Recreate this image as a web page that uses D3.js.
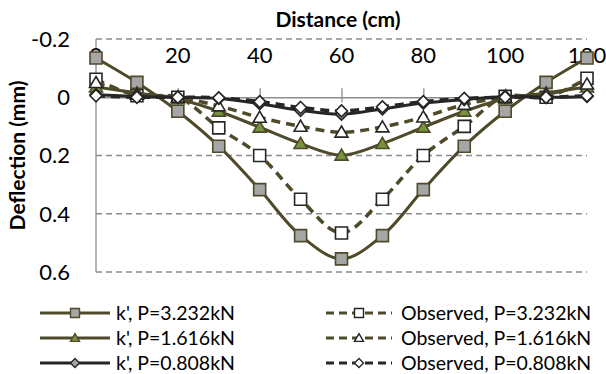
<!DOCTYPE html>
<html>
<head>
<meta charset="utf-8">
<script src="https://cdn.jsdelivr.net/npm/d3@7"></script>
<style>
  body { margin: 0; background: #fff; }
  svg { font-family: "Lato", "Open Sans", sans-serif; }
</style>
</head>
<body>
<svg id="chart" width="606" height="374"></svg>
<script>
// chart data
const distance = [0, 10, 20, 30, 40, 50, 60, 70, 80, 90, 100, 110, 120];
const kP3232 = [-0.135, -0.051, 0.048, 0.168, 0.317, 0.475, 0.555, 0.475, 0.317, 0.168, 0.048, -0.051, -0.135];
const obsP3232 = [-0.062, -0.005, 0.0, 0.105, 0.2, 0.35, 0.466, 0.35, 0.2, 0.1, -0.003, 0.0, -0.065];
const kP1616 = [-0.035, -0.015, 0.005, 0.048, 0.103, 0.159, 0.199, 0.159, 0.103, 0.048, 0.005, -0.015, -0.035];
const obsP1616 = [-0.05, -0.01, 0.0, 0.03, 0.069, 0.1, 0.12, 0.102, 0.068, 0.025, 0.0, -0.01, -0.045];
const kP0808 = [-0.009, -0.003, 0.0, 0.004, 0.022, 0.045, 0.058, 0.04, 0.02, 0.008, -0.003, 0.0, -0.003];
const obsP0808 = [-0.005, 0.0, 0.0, 0.002, 0.015, 0.035, 0.047, 0.033, 0.015, 0.004, 0.0, 0.0, -0.005];
const xTicks = [0, 20, 40, 60, 80, 100, 120];
const yTicks = [-0.2, 0, 0.2, 0.4, 0.6];

const olive = "#4f4a2a";
const dark = "#262626";

const series = [
  { name: "k', P=3.232kN", values: kP3232, color: olive, dash: null, shape: "square", fill: "#a6a6a6", mstroke: olive },
  { name: "Observed, P=3.232kN", values: obsP3232, color: olive, dash: "9,6", shape: "square", fill: "#fff", mstroke: dark },
  { name: "k', P=1.616kN", values: kP1616, color: olive, dash: null, shape: "triangle", fill: "#77933c", mstroke: olive },
  { name: "Observed, P=1.616kN", values: obsP1616, color: olive, dash: "9,6", shape: "triangle", fill: "#fff", mstroke: dark },
  { name: "k', P=0.808kN", values: kP0808, color: dark, dash: null, shape: "diamond", fill: "#a6a6a6", mstroke: dark },
  { name: "Observed, P=0.808kN", values: obsP0808, color: dark, dash: "9,6", shape: "diamond", fill: "#fff", mstroke: dark }
];

// marker outline of width w, centred on 0,0
function marker(shape, w) {
  const h = w / 2;
  const p = d3.path();
  if (shape === "square") {
    p.rect(-h, -h, w, w);
  } else if (shape === "triangle") {
    p.moveTo(0, -h * 0.95); p.lineTo(h, h * 0.75); p.lineTo(-h, h * 0.75); p.closePath();
  } else {
    p.moveTo(0, -h); p.lineTo(h, 0); p.lineTo(0, h); p.lineTo(-h, 0); p.closePath();
  }
  return p.toString();
}

const margin = { left: 96, right: 19, top: 39, bottom: 102 };
const width = 606, height = 374;

const svg = d3.select("#chart");

const x = d3.scaleLinear().domain([0, 120]).range([margin.left, width - margin.right]);
const y = d3.scaleLinear().domain([-0.2, 0.6]).range([margin.top, height - margin.bottom]);

// gridlines
svg.append("g")
  .selectAll("line")
  .data(yTicks.filter(t => t !== 0))
  .enter().append("line")
  .attr("x1", x(0)).attr("x2", x(120))
  .attr("y1", d => y(d)).attr("y2", d => y(d))
  .attr("stroke", "#8c8c8c")
  .attr("stroke-width", 1.3)
  .attr("stroke-dasharray", "6,4");

// y axis line and labels
svg.append("line")
  .attr("x1", x(0)).attr("x2", x(0))
  .attr("y1", y(-0.2)).attr("y2", y(0.6))
  .attr("stroke", "#8c8c8c").attr("stroke-width", 1.3);

svg.append("g")
  .selectAll("text")
  .data(yTicks)
  .enter().append("text")
  .attr("x", 70)
  .attr("y", d => y(d))
  .attr("dy", "0.36em")
  .attr("text-anchor", "end")
  .attr("font-size", 22)
  .attr("fill", "#000")
  .text(d => d === 0 ? "0" : d3.format(".1f")(d).replace("−", "-"));

// x axis line at zero with tick marks, labels shown at the top
const xAxis = d3.axisTop(x).tickValues(xTicks).tickSize(9).tickFormat("");
const xg = svg.append("g").attr("transform", `translate(0,${y(0)})`).call(xAxis);
xg.select(".domain").attr("stroke", "#8c8c8c").attr("stroke-width", 1.3);
xg.selectAll(".tick line").attr("stroke", "#8c8c8c").attr("stroke-width", 1.3).attr("y2", -9).attr("y1", 5);

svg.append("g")
  .selectAll("text")
  .data(xTicks)
  .enter().append("text")
  .attr("x", d => x(d))
  .attr("y", 63)
  .attr("text-anchor", "middle")
  .attr("font-size", 22)
  .attr("fill", "#000")
  .text(d => d);

// axis titles
svg.append("text")
  .attr("x", 338).attr("y", 27)
  .attr("text-anchor", "middle")
  .attr("font-size", 21).attr("font-weight", "bold")
  .text("Distance (cm)");

svg.append("text")
  .attr("transform", `translate(25,${(y(-0.2) + y(0.6)) / 2}) rotate(-90)`)
  .attr("text-anchor", "middle")
  .attr("font-size", 21).attr("font-weight", "bold")
  .text("Deflection (mm)");

// series
const line = d3.line()
  .x((d, i) => x(distance[i]))
  .y(d => y(d))
  .curve(d3.curveCatmullRom.alpha(0.5));

series.forEach(s => {
  const g = svg.append("g");
  g.append("path")
    .datum(s.values)
    .attr("d", line)
    .attr("fill", "none")
    .attr("stroke", s.color)
    .attr("stroke-width", s.dash ? 3.5 : 3)
    .attr("stroke-dasharray", s.dash);

  g.selectAll("path.m")
    .data(s.values)
    .enter().append("path")
    .attr("class", "m")
    .attr("transform", (d, i) => `translate(${x(distance[i])},${y(d)})`)
    .attr("d", marker(s.shape, s.shape === "triangle" ? 13 : 12))
    .attr("fill", s.fill)
    .attr("stroke", s.mstroke)
    .attr("stroke-width", 1.6);
});

// legend
const legendRows = [313, 338, 363];
const legendCols = [
  { lx1: 40, lx2: 110, tx: 116 },
  { lx1: 326, lx2: 392, tx: 401 }
];

series.forEach((s, i) => {
  const col = legendCols[i % 2];
  const ly = legendRows[Math.floor(i / 2)];
  const g = svg.append("g");
  g.append("line")
    .attr("x1", col.lx1).attr("x2", col.lx2)
    .attr("y1", ly).attr("y2", ly)
    .attr("stroke", s.color)
    .attr("stroke-width", 3)
    .attr("stroke-dasharray", s.dash ? "8,5" : null);
  g.append("path")
    .attr("transform", `translate(${(col.lx1 + col.lx2) / 2},${ly})`)
    .attr("d", marker(s.shape, 9))
    .attr("fill", s.fill)
    .attr("stroke", s.mstroke)
    .attr("stroke-width", 1.4);
  g.append("text")
    .attr("x", col.tx).attr("y", ly)
    .attr("dy", "0.36em")
    .attr("font-size", 19.5)
    .attr("fill", "#000")
    .text(s.name);
});
</script>
</body>
</html>
